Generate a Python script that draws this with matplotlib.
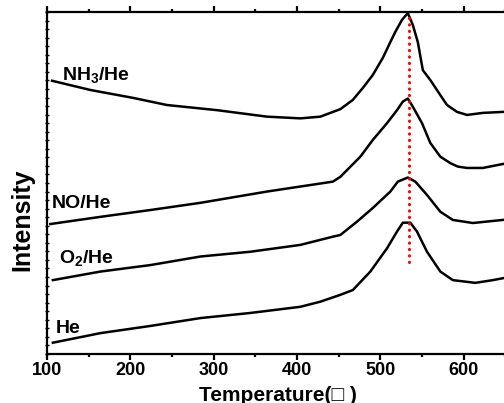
import matplotlib
matplotlib.use('Agg')
import matplotlib.pyplot as plt
from matplotlib.ticker import FixedLocator

plt.rcParams['font.family'] = ['Liberation Sans', 'DejaVu Sans']
plt.rcParams['font.weight'] = 'bold'
plt.rcParams['mathtext.fontset'] = 'custom'
plt.rcParams['mathtext.bf'] = 'Liberation Sans:bold'
plt.rcParams['mathtext.rm'] = 'Liberation Sans:bold'
plt.rcParams['mathtext.default'] = 'bf'

# curves (intensity in arbitrary units, 0-100)
t_nh3 = [106, 152, 203, 244, 304, 364, 404, 428, 452, 467, 479, 491, 503, 512, 518, 526, 533,
         539, 545, 551, 560, 572, 580, 592, 604, 623, 648]
i_nh3 = [79.9, 77.2, 74.9, 72.8, 71.3, 69.4, 68.9, 69.4, 71.6, 74.3, 77.8, 81.6, 86.6, 91.2, 94.2, 97.7, 99.7,
         96.2, 91.2, 83.0, 80.1, 75.7, 72.8, 70.8, 69.9, 70.5, 70.8]

t_no = [104, 164, 224, 284, 364, 443, 452, 476, 491, 508, 520, 527, 533, 539, 550, 560, 572,
        584, 593, 604, 623, 648]
i_no = [38.0, 40.1, 42.1, 44.2, 47.5, 50.4, 51.8, 57.7, 62.6, 67.5, 71.3, 73.8, 74.7, 72.3, 67.5, 61.7, 57.7,
        55.8, 54.8, 54.4, 54.4, 55.6]

t_o2 = [107, 164, 224, 284, 344, 404, 443, 452, 472, 491, 512, 521, 533, 542, 556, 572, 587, 611, 647]
i_o2 = [21.6, 24.1, 26.0, 28.5, 29.9, 31.9, 34.3, 34.8, 38.7, 42.7, 47.5, 50.4, 51.6, 50.4, 46.5, 41.6, 39.2, 38.3, 39.2]

t_he = [107, 164, 224, 284, 344, 404, 428, 452, 467, 488, 508, 520, 527, 536, 544, 556, 572,
        587, 614, 635, 648]
i_he = [3.3, 6.1, 8.2, 10.5, 12.0, 13.8, 15.3, 17.3, 18.7, 24.1, 30.9, 35.8, 38.4, 38.4, 35.8, 29.9, 24.1,
        21.6, 20.8, 21.6, 22.2]

peak_t = 534
peak_span = [27, 100]

labels = ['NH$_3$/He', 'NO/He', 'O$_2$/He', 'He']
label_t = [118, 106, 114, 111]
label_i = [80.1, 42.7, 26.6, 6.1]

xticks = [100, 200, 300, 400, 500, 600]
xminor = [150, 250, 350, 450, 550, 650]

fig = plt.figure(figsize=(5.04, 4.03), dpi=100)
ax = fig.add_axes([0.0933, 0.1216, 0.992, 0.8486])

for t, i in [(t_nh3, i_nh3), (t_no, i_no), (t_o2, i_o2), (t_he, i_he)]:
    ax.plot(t, i, color='black', lw=1.8, solid_joinstyle='round')

ax.plot([peak_t, peak_t], peak_span, color='red', lw=2.2,
        linestyle=(0, (0.1, 2)), dash_capstyle='round', clip_on=False)

for lab, x, y in zip(labels, label_t, label_i):
    ax.text(x, y, lab, fontsize=14, fontweight='bold', va='baseline', ha='left')

ax.set_xlim(100, 700)
ax.set_ylim(0, 100)

for s in ax.spines.values():
    s.set_linewidth(1.6)

ax.xaxis.set_major_locator(FixedLocator(xticks))
ax.xaxis.set_minor_locator(FixedLocator(xminor))
ax.yaxis.set_major_locator(FixedLocator([k * 2.5 for k in range(41)]))
ax.tick_params(axis='x', which='major', direction='out', length=4, width=1.6,
               labelsize=13, pad=2, top=True)
ax.tick_params(axis='x', which='minor', direction='out', length=2.5, width=1.6, top=True)
ax.tick_params(axis='y', which='major', direction='inout', length=2.5, width=1,
               labelleft=False)
for lbl in ax.get_xticklabels():
    lbl.set_fontweight('bold')

fig.text(22 / 504, 1 - 219.5 / 403, 'Intensity', rotation=90, fontsize=18,
         fontweight='bold', ha='center', va='center')
fig.text(277.5 / 504, 1 - 401 / 403, 'Temperature(\u25a1 )', fontsize=15,
         fontweight='bold', ha='center', va='baseline')

fig.savefig('out.png', dpi=100)
